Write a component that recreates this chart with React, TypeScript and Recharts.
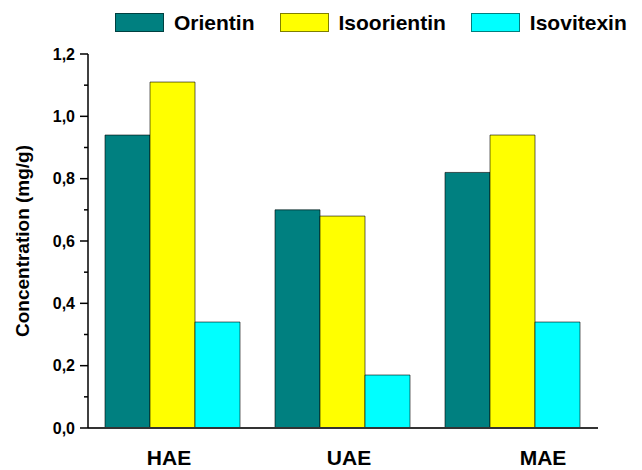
import { BarChart, Bar, XAxis, YAxis, Label } from "recharts";

const methods = ["HAE", "UAE", "MAE"];
const orientin = [0.94, 0.7, 0.82];
const isoorientin = [1.11, 0.68, 0.94];
const isovitexin = [0.34, 0.17, 0.34];
const yTicks = [0, 0.1, 0.2, 0.3, 0.4, 0.5, 0.6, 0.7, 0.8, 0.9, 1.0, 1.1, 1.2];
const majorTicks = [0, 0.2, 0.4, 0.6, 0.8, 1.0, 1.2];

const series = [
  { key: "orientin", name: "Orientin", color: "#008080" },
  { key: "isoorientin", name: "Isoorientin", color: "#ffff00" },
  { key: "isovitexin", name: "Isovitexin", color: "#00ffff" },
];

const data = methods.map((m, i) => ({
  method: m,
  orientin: orientin[i],
  isoorientin: isoorientin[i],
  isovitexin: isovitexin[i],
}));

const FONT = '"Liberation Sans", Arial, sans-serif';

// the original labels sit slightly off their band centres
const labelShift: Record<string, number> = { HAE: -4, UAE: 6, MAE: 30 };

const YTick = (props: any) => {
  const { x, y, payload } = props;
  const v = payload.value;
  const major = majorTicks.some((t) => Math.abs(t - v) < 1e-6);
  const axisX = x + 13;
  return (
    <g>
      <line x1={axisX - (major ? 8 : 4)} x2={axisX} y1={y} y2={y} stroke="#000" strokeWidth={1.5} />
      {major && (
        <text x={x} y={y} dy="0.36em" textAnchor="end" fontSize={16} fontWeight="bold" fontFamily={FONT} fill="#000">
          {v.toFixed(1).replace(".", ",")}
        </text>
      )}
    </g>
  );
};

const XTick = (props: any) => {
  const { x, y, payload } = props;
  return (
    <text x={x + (labelShift[payload.value] ?? 0)} y={y} dy={29} textAnchor="middle" fontSize={21} fontWeight="bold" fontFamily={FONT} fill="#000">
      {payload.value}
    </text>
  );
};

export default function App() {
  return (
    <div style={{ position: "absolute", left: 0, top: 0, width: 642, height: 470, background: "#fff", fontFamily: FONT }}>
      <div style={{ position: "absolute", left: 115, top: 13, display: "flex", gap: 25 }}>
        {series.map((s) => (
          <div key={s.key} style={{ display: "flex", alignItems: "center", gap: 10 }}>
            <div style={{ width: 47, height: 17, background: s.color, border: "1px solid rgba(0,0,0,0.5)" }} />
            <span style={{ fontSize: 21, fontWeight: "bold", lineHeight: "19px" }}>{s.name}</span>
          </div>
        ))}
      </div>
      <BarChart width={642} height={470} data={data} margin={{ top: 54, right: 44, bottom: 0, left: 0 }} barCategoryGap="10%" barGap={0}>
        <XAxis
          dataKey="method"
          height={42}
          axisLine={{ stroke: "#333", strokeWidth: 2 }}
          tickLine={false}
          tick={<XTick />}
          interval={0}
        />
        <YAxis
          width={88}
          domain={[0, 1.2]}
          ticks={yTicks}
          interval={0}
          tickSize={8}
          tickMargin={5}
          tickLine={false}
          tick={<YTick />}
          axisLine={{ stroke: "#000", strokeWidth: 1.5 }}
        >
          <Label
            content={({ viewBox }: any) => {
              const cx = viewBox.x + 22;
              const cy = viewBox.y + viewBox.height / 2;
              return (
                <text x={cx} y={cy} transform={`rotate(-90 ${cx} ${cy})`} textAnchor="middle" dy="0.36em" fontSize={19} fontWeight="bold" fontFamily={FONT} fill="#000">
                  Concentration (mg/g)
                </text>
              );
            }}
          />
        </YAxis>
        {series.map((s) => (
          <Bar key={s.key} dataKey={s.key} name={s.name} fill={s.color} stroke="rgba(0,0,0,0.6)" strokeWidth={1} isAnimationActive={false} />
        ))}
      </BarChart>
    </div>
  );
}
